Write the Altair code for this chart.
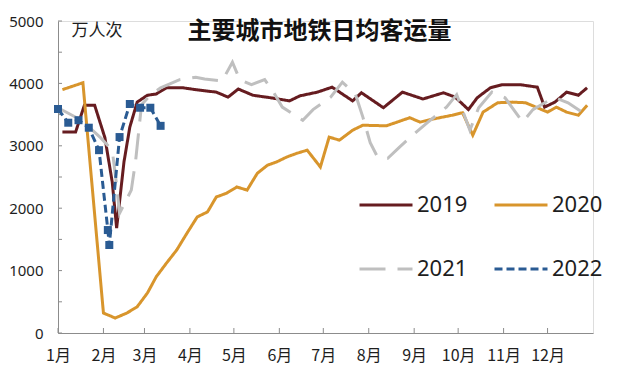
import altair as alt
import pandas as pd

# ---- axis labels ----
month_labels = ["1月", "2月", "3月", "4月", "5月", "6月", "7月", "8月", "9月", "10月", "11月", "12月"]
month_starts = [0, 31, 59, 90, 120, 151, 181, 212, 243, 273, 304, 334]
y_ticks = [0, 500, 1000, 1500, 2000, 2500, 3000, 3500, 4000, 4500, 5000]

series_names = ["2019", "2020", "2021", "2022"]
colors = ["#661C20", "#D8952C", "#BFBFBF", "#2A5B93"]
dashes = [[1, 0], [1, 0], [26, 12], [8, 4]]

# ---- data (day of year, 万人次) ----
day_2019 = [3, 12, 18, 25, 32, 37, 40, 45, 49, 54, 61, 67, 74, 85, 97, 108, 116, 123, 133, 145,
            158, 165, 177, 187, 201, 207, 222, 235, 249, 263, 271, 280, 286, 295, 303, 315, 327,
            332, 339, 347, 355, 361]
val_2019 = [3220, 3220, 3650, 3650, 3130, 2420, 1680, 2740, 3300, 3700, 3810, 3830, 3930, 3930,
            3890, 3860, 3780, 3910, 3810, 3770, 3720, 3800, 3860, 3940, 3720, 3850, 3610, 3860,
            3750, 3850, 3780, 3580, 3770, 3930, 3980, 3980, 3940, 3620, 3700, 3860, 3810, 3930]

day_2020 = [3, 17, 31, 39, 47, 54, 61, 67, 74, 81, 88, 95, 102, 108, 115, 122, 129, 136, 143, 149,
            156, 163, 170, 179, 185, 192, 201, 208, 224, 240, 247, 256, 269, 276, 283, 290, 300,
            310, 319, 327, 334, 340, 347, 355, 361]
val_2020 = [3900, 4010, 320, 240, 320, 420, 640, 900, 1120, 1330, 1600, 1860, 1940, 2180, 2240,
            2340, 2290, 2560, 2690, 2740, 2820, 2880, 2930, 2660, 3140, 3090, 3250, 3330, 3320,
            3450, 3380, 3430, 3490, 3530, 3170, 3540, 3690, 3700, 3690, 3610, 3540, 3620, 3540,
            3490, 3650]

day_2021 = [0, 16, 29, 37, 40, 42, 50, 53, 57, 63, 70, 83, 94, 100, 112, 119, 124, 132, 141, 147,
            153, 167, 174, 186, 194, 203, 208, 213, 218, 225, 233, 242, 252, 265, 272, 281, 287,
            296, 305, 317, 324, 332, 339, 348, 358]
val_2021 = [3610, 3410, 3130, 2930, 2370, 1920, 2290, 2770, 3660, 3810, 3930, 4060, 4100, 4070,
            4040, 4340, 4060, 3980, 4060, 3860, 3620, 3410, 3580, 3780, 4020, 3820, 3460, 3050,
            2820, 2800, 2980, 3170, 3370, 3620, 3820, 3250, 3610, 3860, 3770, 3380, 3580, 3690,
            3770, 3690, 3530]

day_2022 = [0, 7, 14, 21, 28, 34, 35, 42, 49, 56, 63, 70]
val_2022 = [3590, 3370, 3410, 3290, 2930, 1650, 1410, 3140, 3670, 3610, 3610, 3320]

rows = []
for name, days, vals in [("2019", day_2019, val_2019), ("2020", day_2020, val_2020),
                         ("2021", day_2021, val_2021), ("2022", day_2022, val_2022)]:
    for d, v in zip(days, vals):
        rows.append({"series": name, "day": d, "value": v})
df = pd.DataFrame(rows)
df_2022 = df[df["series"] == "2022"]

label_expr = ("[" + ",".join(f"'{m}'" for m in month_labels) + "][indexof(["
              + ",".join(str(s) for s in month_starts) + "], datum.value)]")

x_scale = alt.Scale(domain=[0, 365], nice=False, zero=False)
y_scale = alt.Scale(domain=[0, 5000], nice=False)
color_scale = alt.Scale(domain=series_names, range=colors)
dash_scale = alt.Scale(domain=series_names, range=dashes)

axis_color = "#8C8C8C"
text_color = "#1E1E1E"

x_axis = alt.Axis(values=month_starts, labelExpr=label_expr, title=None, grid=False, tickSize=0,
                  labelPadding=14, labelFontSize=16, labelFont="Noto Sans CJK SC",
                  labelColor=text_color, domainColor=axis_color, labelFlush=False,
                  labelOverlap=False)
y_axis = alt.Axis(values=y_ticks, format="d", title="万人次", titleAngle=0, titleX=13, titleY=9,
                  titleAlign="left", titleBaseline="middle", titleFontSize=17,
                  titleFontWeight="normal", titleFont="Noto Sans CJK SC", titleColor=text_color,
                  tickSize=0, labelPadding=15, grid=False, labelFontSize=15, labelFont="Noto Sans",
                  labelColor=text_color, domainColor=axis_color, labelOverlap=False,
                  labelFlush=False)

legend = alt.Legend(title=None, orient="none", direction="horizontal", legendX=300, legendY=156,
                    columns=2, symbolType="stroke", symbolSize=2809, symbolStrokeWidth=3,
                    labelFontSize=22, labelFont="Noto Sans", labelColor=text_color,
                    labelOffset=3, columnPadding=20, rowPadding=25, padding=0, offset=0)

lines = alt.Chart(df).mark_line(strokeWidth=3).encode(
    x=alt.X("day:Q", scale=x_scale, axis=x_axis),
    y=alt.Y("value:Q", scale=y_scale, axis=y_axis),
    color=alt.Color("series:N", scale=color_scale, legend=legend),
    strokeDash=alt.StrokeDash("series:N", scale=dash_scale, legend=legend),
)

points = alt.Chart(df_2022).mark_point(shape="square", filled=True, size=64, opacity=1).encode(
    x=alt.X("day:Q", scale=x_scale),
    y=alt.Y("value:Q", scale=y_scale),
    color=alt.value("#2A5B93"),
)

x_ticks = alt.Chart(pd.DataFrame({"day": month_starts})).mark_rule(color=axis_color, strokeWidth=1).encode(
    x=alt.X("day:Q", scale=x_scale),
    y=alt.value(312), y2=alt.value(307),
)
y_tick_marks = alt.Chart(pd.DataFrame({"value": y_ticks})).mark_rule(color=axis_color, strokeWidth=1).encode(
    y=alt.Y("value:Q", scale=y_scale),
    x=alt.value(0), x2=alt.value(4),
)

chart = alt.layer(x_ticks, y_tick_marks, lines, points).properties(
    width=535, height=312,
    autosize=alt.AutoSizeParams(type="none"),
    padding={"left": 50, "top": 13, "right": 31, "bottom": 37},
    title=alt.Title("主要城市地铁日均客运量", fontSize=24, font="Noto Sans CJK SC",
                    fontWeight="bold", anchor="middle", dy=30, dx=-6, offset=0, color="#111111"),
).configure_view(strokeWidth=0).configure(background="white")

chart.save("out.html", embed_options={"renderer": "svg", "actions": False})
